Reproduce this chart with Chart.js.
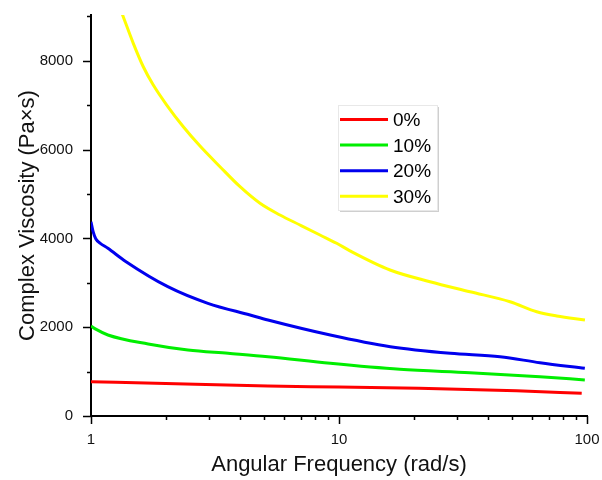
<!DOCTYPE html>
<html>
<head>
<meta charset="utf-8">
<script src="https://cdn.jsdelivr.net/npm/chart.js@4/dist/chart.umd.min.js"></script>
<style>
  html, body { margin: 0; padding: 0; background: #fff; }
  #wrap { width: 602px; height: 480px; }
</style>
</head>
<body>
<div id="wrap"><canvas id="viscChart"></canvas></div>
<script>
// values (x in rad/s, y in Pa·s)
const labels = ["0%", "10%", "20%", "30%"];
const colors = ["#ff0000", "#00ee00", "#0000ee", "#ffff00"];

const xTicks = [1, 10, 100];
const yTicks = [0, 2000, 4000, 6000, 8000];

const freq0 = [1, 2, 5.17, 10, 21, 52, 95.2];
const visc0 = [772, 730, 675, 653, 624, 570, 511];

const freq10 = [1, 1.05, 1.17, 1.7, 2.46, 3.57, 5.17, 9.22, 17.6, 33.7, 64.6, 98];
const visc10 = [2027, 1950, 1824, 1621, 1486, 1412, 1336, 1186, 1051, 975, 885, 811];

const freq20 = [1, 1.02, 1.045, 1.087, 1.17, 1.38, 2.04, 2.96, 4.38, 5.17, 9.22, 16.1, 28.1, 44.6, 64.6, 98];
const visc20 = [4375, 4150, 3990, 3895, 3776, 3480, 2912, 2538, 2274, 2162, 1824, 1561, 1412, 1336, 1200, 1074];

const freq30 = [1.2, 1.349, 1.481, 1.625, 1.783, 2.02, 2.356, 2.752, 3.312, 3.99, 4.803, 5.781, 6.96, 8.382, 9.788, 11.07, 16.06, 23.28, 33.75, 48.93, 62.7, 75.5, 98.1];
const visc30 = [9750, 8991, 8392, 7865, 7453, 7003, 6514, 6079, 5614, 5163, 4790, 4526, 4301, 4076, 3889, 3720, 3288, 3024, 2799, 2574, 2349, 2252, 2162];

const freqSets = [freq0, freq10, freq20, freq30];
const viscSets = [visc0, visc10, visc20, visc30];

const yMax = 9030;
const fontFam = "Arial, 'Liberation Sans', sans-serif";

// outward ticks, long on labelled values, short on the others
const tickPlugin = {
  id: "ticks",
  afterDraw(chart) {
    const ctx = chart.ctx;
    const xs = chart.scales.x, ys = chart.scales.y;
    ctx.save();
    ctx.strokeStyle = "#000";
    ctx.lineWidth = 1.5;
    ctx.beginPath();
    for (let v = 0; v <= 9000; v += 1000) {
      const py = Math.round(ys.getPixelForValue(v)) + 0.5;
      const len = v % 2000 === 0 ? 8 : 4;
      ctx.moveTo(xs.left - len, py);
      ctx.lineTo(xs.left, py);
    }
    for (let d = 1; d <= 100; d *= 10) {
      for (let m = 1; m <= 9; m++) {
        const v = d * m;
        if (v > 100) break;
        const px = Math.round(xs.getPixelForValue(v)) + 0.5;
        const len = m === 1 ? 8 : 4;
        ctx.moveTo(px, ys.bottom);
        ctx.lineTo(px, ys.bottom + len);
      }
    }
    ctx.stroke();
    ctx.restore();
  }
};

// boxed legend inside the plot
const boxLegend = {
  id: "boxLegend",
  afterDraw(chart) {
    const ctx = chart.ctx;
    const x0 = 338, y0 = 105, w = 99, h = 105;
    ctx.save();
    ctx.fillStyle = "#cfcfcf";
    ctx.fillRect(x0 + 2, y0 + 2, w, h);
    ctx.fillStyle = "#fff";
    ctx.fillRect(x0, y0, w, h);
    ctx.strokeStyle = "#e8e8e8";
    ctx.lineWidth = 1;
    ctx.strokeRect(x0 + 0.5, y0 + 0.5, w, h);
    ctx.font = "19px " + fontFam;
    ctx.textBaseline = "middle";
    chart.data.datasets.forEach((ds, i) => {
      const cy = y0 + 14.5 + i * 25.6;
      ctx.strokeStyle = ds.borderColor;
      ctx.lineWidth = 3;
      ctx.beginPath();
      ctx.moveTo(x0 + 2, cy);
      ctx.lineTo(x0 + 50, cy);
      ctx.stroke();
      ctx.fillStyle = "#000";
      ctx.fillText(ds.label, x0 + 55, cy + 1.5);
    });
    ctx.restore();
  }
};

const datasets = labels.map((lab, i) => ({
  label: lab,
  data: freqSets[i].map((f, j) => ({ x: f, y: viscSets[i][j] })),
  borderColor: colors[i],
  backgroundColor: colors[i],
  borderWidth: 3,
  pointRadius: 0,
  cubicInterpolationMode: "monotone",
  fill: false
}));

new Chart(document.getElementById("viscChart"), {
  type: "line",
  data: { datasets },
  options: {
    responsive: true,
    maintainAspectRatio: false,
    animation: false,
    layout: { padding: { left: 0, top: 15, right: 0, bottom: 0 } },
    plugins: { legend: { display: false }, tooltip: { enabled: false } },
    scales: {
      x: {
        type: "logarithmic",
        min: 1,
        max: 100,
        grid: { display: false },
        border: { display: true, color: "#000", width: 2 },
        afterBuildTicks: (s) => { s.ticks = xTicks.map((v) => ({ value: v })); },
        ticks: {
          autoSkip: false,
          maxRotation: 0,
          padding: 7,
          color: "#111",
          font: { family: fontFam, size: 15 },
          callback: (v) => String(v)
        },
        title: {
          display: true,
          text: "Angular Frequency (rad/s)",
          color: "#111",
          font: { family: fontFam, size: 22 },
          padding: { top: 0, bottom: 2 }
        },
        afterFit: (s) => { s.height = 64; s.paddingLeft = 0; s.paddingRight = 15; }
      },
      y: {
        type: "linear",
        min: 0,
        max: yMax,
        grid: { display: false },
        border: { display: true, color: "#000", width: 2 },
        afterBuildTicks: (s) => { s.ticks = yTicks.map((v) => ({ value: v })); },
        ticks: {
          autoSkip: false,
          padding: 10,
          color: "#111",
          font: { family: fontFam, size: 15 },
          callback: (v) => String(v)
        },
        title: {
          display: true,
          text: "Complex Viscosity (Pa×s)",
          color: "#111",
          font: { family: fontFam, size: 22 },
          padding: { top: 15, bottom: 0 }
        },
        afterFit: (s) => { s.width = 91; s.paddingTop = 0; s.paddingBottom = 0; }
      }
    }
  },
  plugins: [tickPlugin, boxLegend]
});
</script>
</body>
</html>
